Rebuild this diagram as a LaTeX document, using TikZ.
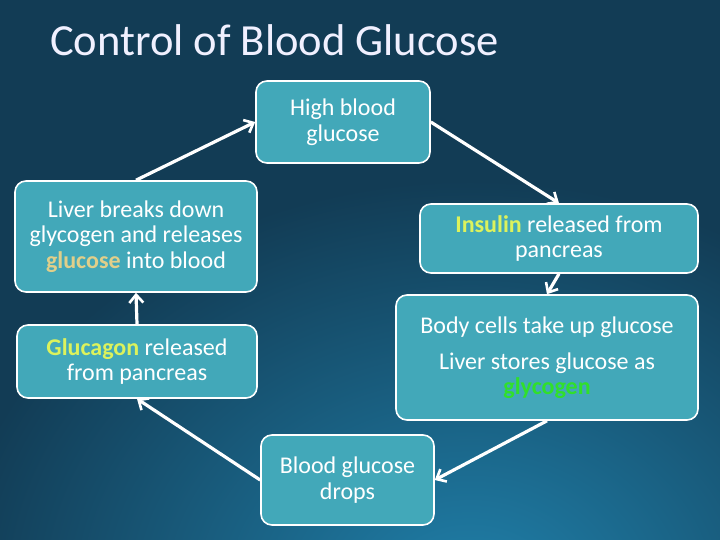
\documentclass[tikz,border=0pt]{standalone}
\usepackage{fontspec}
\setmainfont{Carlito}
\usetikzlibrary{arrows.meta}

\definecolor{bgdark}{HTML}{123C55}
\definecolor{bglight}{HTML}{2081AB}
\definecolor{boxfill}{HTML}{42A8B9}
\definecolor{sugar}{HTML}{E0CF8A}
\definecolor{hormone}{HTML}{DCF25C}
\definecolor{store}{HTML}{30E02A}

\def\hl#1#2{{\bfseries\color{#1}#2}}

\tikzset{
  stage/.style={draw=white, line width=1.6pt, fill=boxfill, rounded corners=11pt,
    text=white, align=center, inner sep=0pt,
    font=\fontsize{24}{25.5}\selectfont},
  flow/.style={draw=white, line width=3.2pt,
    -{Straight Barb[length=8pt,width=14pt,line width=2.6pt]}}
}

\begin{document}
\begin{tikzpicture} [x=1pt, y=-1pt]
% background
\fill [bgdark] (0,0) rectangle (720,540);
\begin{scope}
\clip (0,0) rectangle (720,540);
\shade [inner color=bglight, outer color=bgdark, opacity=1]
  (470,600) ellipse (520 and 420);
\end{scope}
\useasboundingbox (0,0) rectangle (720,540);

\node [anchor=base west, text=white!94!blue, inner sep=0pt,
  font=\fontsize{44.5}{50}\selectfont] (title) at (50,56) {Control of Blood Glucose};

% the six stages
\node [stage, minimum width=174pt, minimum height=82pt] (high) at (343,122)
  {High blood\\glucose};

\node [stage, minimum width=278pt, minimum height=69pt] (insulin) at (559,238.5)
  {\hl{hormone}{Insulin} released from\\pancreas};

\node [stage, minimum width=302pt, minimum height=125pt] (body) at (547,357.5)
  {Body cells take up glucose\\[10.5pt]Liver stores glucose as\\\hl{store}{glycogen}};

\node [stage, minimum width=173pt, minimum height=90pt] (drops) at (347.5,480)
  {Blood glucose\\drops};

\node [stage, minimum width=240pt, minimum height=73pt] (glucagon) at (137,361.5)
  {\hl{hormone}{Glucagon} released\\from pancreas};

\node [stage, minimum width=242pt, minimum height=111pt] (liver) at (136,236.5)
  {Liver breaks down\\glycogen and releases\\\hl{sugar}{glucose} into blood};

% the loop
\draw [flow] (high.east) -- (insulin.north);
\draw [flow] (insulin.south) -- (body.north);
\draw [flow] (body.south) -- (drops.east);
\draw [flow] (drops.west) -- (glucagon.south);
\draw [flow] (glucagon.north) -- (liver.south);
\draw [flow] (liver.north) -- (high.west);

\end{tikzpicture}
\end{document}
